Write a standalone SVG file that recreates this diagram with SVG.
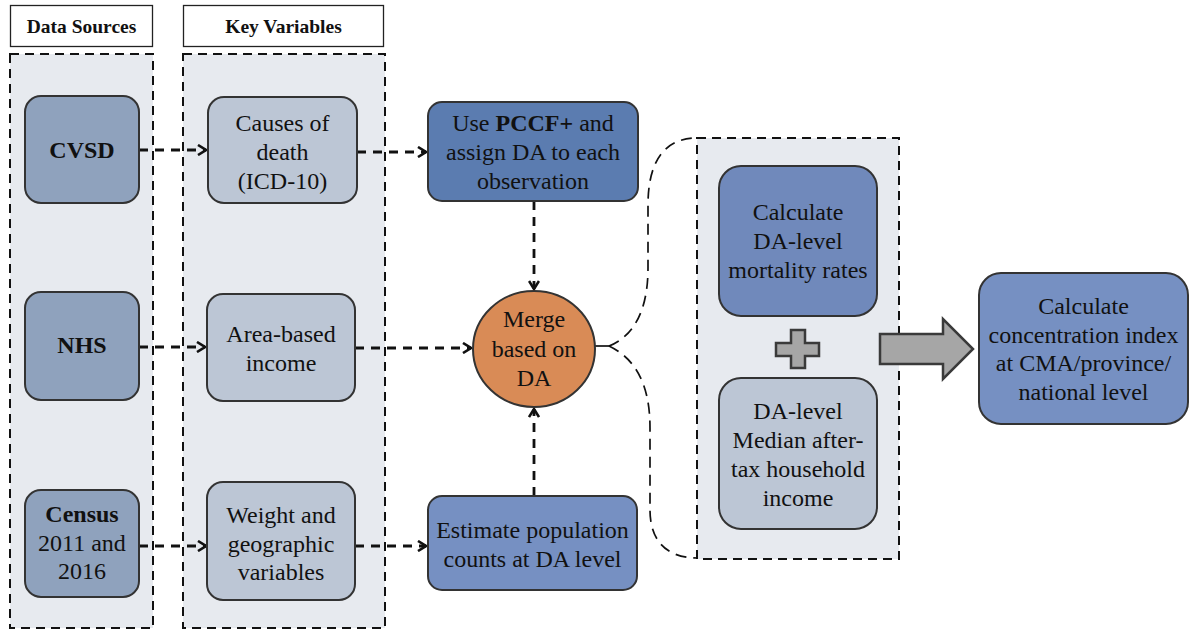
<svg xmlns="http://www.w3.org/2000/svg" width="1190" height="631" viewBox="0 0 1190 631">
  <style>
    text { font-family: 'Liberation Serif', 'Times New Roman', serif; font-size: 24px; fill: #111; text-anchor: middle; }
    .b { font-weight: bold; }
    .hdr { font-size: 19.5px; font-weight: bold; }
    .head { fill: #fff; stroke: #222; stroke-width: 1.3; }
    .panel { fill: #e7eaef; stroke: #111; stroke-width: 2; stroke-dasharray: 9 6; }
    .src { fill: #8fa2bd; stroke: #333; stroke-width: 2; }
    .var { fill: #bcc6d5; stroke: #333; stroke-width: 2; }
    .proc { fill: #5b7cb0; stroke: #333; stroke-width: 2; }
    .proc2 { fill: #7089bb; stroke: #333; stroke-width: 2; }
    .proc3 { fill: #7690c2; stroke: #333; stroke-width: 2; }
    .merge { fill: #d98b56; stroke: #333; stroke-width: 2; }
    .gray { fill: #a6a6a6; stroke: #3a3a3a; stroke-width: 2.5; }
    .link { fill: none; stroke: #111; stroke-width: 2.8; stroke-dasharray: 9 7; }
    .brace { fill: none; stroke: #111; stroke-width: 1.7; stroke-dasharray: 11 7; }
    .solid { fill: none; stroke: #111; stroke-width: 1.7; }
  </style>
  <defs>
    <marker id="chev" viewBox="0 0 10 12" refX="9" refY="6" markerWidth="10" markerHeight="12" markerUnits="userSpaceOnUse" orient="auto">
      <path d="M1,1 L9,6 L1,11" fill="none" stroke="#111" stroke-width="2.6"/>
    </marker>
  </defs>

  <!-- column headers -->
  <g id="hdr-sources">
    <rect class="head" x="10.5" y="5.5" width="142" height="41"/>
    <text class="hdr" x="81.5" y="33">Data Sources</text>
  </g>
  <g id="hdr-variables">
    <rect class="head" x="183.5" y="5.5" width="200" height="41"/>
    <text class="hdr" x="283.5" y="33">Key Variables</text>
  </g>

  <!-- dashed panels -->
  <g id="panel-sources"><rect class="panel" x="10" y="54" width="143" height="574"/></g>
  <g id="panel-variables"><rect class="panel" x="183" y="54" width="202" height="574"/></g>
  <g id="panel-calc"><rect class="panel" x="697" y="138" width="202" height="421"/></g>

  <!-- connectors -->
  <g id="connectors">
    <line class="link" x1="139" y1="150" x2="206" y2="150" marker-end="url(#chev)"/>
    <line class="link" x1="357" y1="152" x2="426" y2="152" marker-end="url(#chev)"/>
    <line class="link" x1="139" y1="347" x2="205" y2="347" marker-end="url(#chev)"/>
    <line class="link" x1="355" y1="348" x2="471" y2="348" marker-end="url(#chev)"/>
    <line class="link" x1="139" y1="546" x2="206" y2="546" marker-end="url(#chev)"/>
    <line class="link" x1="355" y1="546" x2="426" y2="546" marker-end="url(#chev)"/>
    <line class="link" x1="534" y1="201" x2="534" y2="289" marker-end="url(#chev)"/>
    <line class="link" x1="534" y1="496" x2="534" y2="409" marker-end="url(#chev)"/>
    <!-- brace from merge node to calculation panel -->
    <path class="solid" d="M595,346 L609,346"/>
    <path class="brace" d="M609,346 C634,336 648,310 648,268 L648,205 C648,162 664,138 697,138"/>
    <path class="brace" d="M609,346 C634,358 650,382 650,428 L650,510 C650,542 668,558 697,558"/>
  </g>

  <!-- data sources -->
  <g id="node-cvsd">
    <rect class="src" x="25" y="96" width="114" height="107" rx="16"/>
    <text class="b" x="82" y="158">CVSD</text>
  </g>
  <g id="node-nhs">
    <rect class="src" x="25" y="292" width="114" height="108" rx="16"/>
    <text class="b" x="82" y="353">NHS</text>
  </g>
  <g id="node-census">
    <rect class="src" x="25" y="490" width="114" height="107" rx="16"/>
    <text class="b" x="82" y="522">Census</text>
    <text x="82" y="551">2011 and</text>
    <text x="82" y="579">2016</text>
  </g>

  <!-- key variables -->
  <g id="node-causes">
    <rect class="var" x="208" y="97" width="149" height="106" rx="16"/>
    <text x="282.5" y="131">Causes of</text>
    <text x="282.5" y="160">death</text>
    <text x="282.5" y="189">(ICD-10)</text>
  </g>
  <g id="node-area">
    <rect class="var" x="207" y="294" width="148" height="107" rx="16"/>
    <text x="281" y="342">Area-based</text>
    <text x="281" y="371">income</text>
  </g>
  <g id="node-weight">
    <rect class="var" x="207" y="482" width="148" height="118" rx="16"/>
    <text x="281" y="523">Weight and</text>
    <text x="281" y="552">geographic</text>
    <text x="281" y="580">variables</text>
  </g>

  <!-- processing steps -->
  <g id="node-pccf">
    <rect class="proc" x="428" y="102" width="210" height="99" rx="14"/>
    <text x="533" y="131">Use <tspan class="b">PCCF+</tspan> and</text>
    <text x="533" y="160">assign DA to each</text>
    <text x="533" y="189">observation</text>
  </g>
  <g id="node-merge">
    <ellipse class="merge" cx="534" cy="349" rx="61" ry="58"/>
    <text x="534" y="327">Merge</text>
    <text x="534" y="357">based on</text>
    <text x="534" y="386">DA</text>
  </g>
  <g id="node-estimate">
    <rect class="proc3" x="428" y="496" width="209" height="94" rx="14"/>
    <text x="532.5" y="538">Estimate population</text>
    <text x="532.5" y="567">counts at DA level</text>
  </g>

  <!-- calculation panel contents -->
  <g id="node-mortality">
    <rect class="proc2" x="719" y="166" width="158" height="150" rx="22"/>
    <text x="798" y="220">Calculate</text>
    <text x="798" y="249">DA-level</text>
    <text x="798" y="278">mortality rates</text>
  </g>
  <g id="plus-sign">
    <path class="gray" d="M791,330 H805 V343 H819 V356 H805 V368 H791 V356 H776 V343 H791 Z"/>
  </g>
  <g id="node-income">
    <rect class="var" x="719" y="378" width="158" height="151" rx="22"/>
    <text x="798" y="419">DA-level</text>
    <text x="798" y="448">Median after-</text>
    <text x="798" y="477">tax household</text>
    <text x="798" y="506">income</text>
  </g>

  <!-- block arrow to final step -->
  <g id="block-arrow">
    <path class="gray" d="M880,334 H943 V319 L973,349 L943,379 V364 H880 Z"/>
  </g>

  <g id="node-concentration">
    <rect class="proc3" x="979" y="273" width="209" height="151" rx="22"/>
    <text x="1083.5" y="314">Calculate</text>
    <text x="1083.5" y="343">concentration index</text>
    <text x="1083.5" y="371">at CMA/province/</text>
    <text x="1083.5" y="400">national level</text>
  </g>
</svg>
